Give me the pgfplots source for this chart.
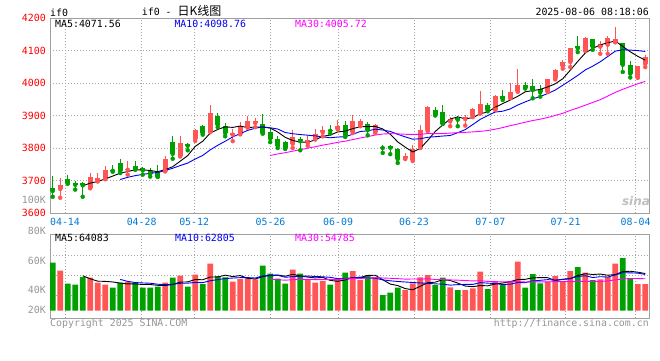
\documentclass[border=0pt]{standalone}
\usepackage{pgfplots}
\pgfplotsset{compat=1.18}
\usepackage{pgfplotstable}
\usepackage{fontspec}
\setmainfont{DejaVu Sans Mono}
\newfontfamily\cjk{Noto Sans CJK SC}
\newfontfamily\logofont{DejaVu Sans}
\definecolor{cred}{RGB}{255,85,85}
\definecolor{cgreen}{RGB}{0,160,0}
\definecolor{cblue}{RGB}{0,0,240}
\definecolor{cmag}{RGB}{255,0,255}
\definecolor{tickblue}{RGB}{0,122,215}
\definecolor{framec}{RGB}{160,160,160}
\definecolor{gridc}{RGB}{165,165,165}
\definecolor{lblgray}{RGB}{150,150,150}
\newcommand{\tf}{\fontsize{9.9}{10}\selectfont}

\pgfplotstableread{
x o h l c
1 3674 3707 3647 3685
5 3678 3723 3676 3711
6 3702 3723 3697 3709
7 3705 3745 3704 3733
10 3733 3759 3718 3736
15 3730 3774 3728 3767
17 3776 3838 3774 3815
19 3829 3859 3822 3854
21 3851 3933 3849 3907
24 3841 3857 3821 3846
25 3844 3879 3842 3867
26 3864 3898 3862 3882
27 3877 3893 3864 3882
32 3813 3854 3800 3834
34 3816 3838 3807 3826
35 3829 3857 3826 3844
36 3848 3867 3836 3855
38 3860 3886 3857 3869
40 3850 3903 3846 3882
41 3870 3890 3867 3884
43 3848 3874 3846 3872
47 3769 3784 3766 3774
48 3764 3808 3760 3798
49 3801 3872 3800 3854
50 3854 3930 3852 3925
53 3882 3895 3867 3889
55 3889 3902 3869 3895
56 3897 3923 3895 3920
57 3908 3975 3906 3936
59 3918 3963 3917 3960
61 3955 4001 3953 3973
62 3975 4044 3973 3994
66 3973 4012 3972 4011
67 4014 4044 4011 4041
68 4052 4070 4044 4065
69 4065 4109 4049 4108
71 4100 4143 4099 4140
73 4112 4130 4090 4120
74 4118 4144 4090 4140
75 4127 4173 4125 4135
78 4017 4052 4016 4051
79 4059 4085 4049 4080
}\redtab

\pgfplotstableread{
x o h l c
0 3677 3714 3650 3668
2 3705 3717 3690 3692
3 3692 3698 3672 3687
4 3691 3695 3650 3685
8 3733 3747 3727 3730
9 3753 3766 3723 3730
11 3745 3761 3733 3736
12 3737 3743 3718 3731
13 3730 3738 3712 3721
14 3725 3748 3711 3712
16 3820 3836 3767 3782
18 3813 3816 3793 3807
20 3869 3872 3841 3846
22 3897 3908 3864 3872
23 3869 3877 3836 3846
28 3875 3906 3844 3846
29 3848 3862 3818 3829
30 3829 3836 3800 3807
31 3818 3823 3797 3800
33 3828 3834 3793 3821
37 3856 3872 3844 3853
39 3872 3883 3834 3839
42 3875 3879 3839 3855
44 3803 3810 3785 3800
45 3806 3809 3781 3801
46 3797 3800 3754 3766
51 3916 3925 3900 3903
52 3912 3933 3874 3875
54 3891 3897 3867 3887
58 3933 3940 3913 3916
60 3960 3978 3948 3952
63 3994 4004 3983 3986
64 3991 4011 3953 3978
65 3981 3994 3958 3971
70 4115 4146 4095 4107
72 4135 4136 4102 4112
76 4123 4124 4034 4056
77 4056 4067 4017 4029
}\greentab

\pgfplotstableread{
x v
1 69000
5 56900
6 48300
7 44900
10 50000
15 48300
17 60400
19 62100
21 81100
24 50000
25 54600
26 57500
27 54100
32 70700
34 53500
35 48300
36 51200
38 55800
40 68400
41 52900
43 57500
47 35700
48 47200
49 57500
50 61500
53 40300
55 35700
56 38500
57 67300
59 51200
61 51200
62 84500
66 50000
67 59800
68 50000
69 68400
71 65600
73 54100
74 58100
75 81100
78 46000
79 46000
}\volred

\pgfplotstableread{
x v
0 82800
2 46600
3 44900
4 58100
8 39700
9 48300
11 48300
12 39700
13 39700
14 41400
16 56900
18 41400
20 46000
22 59800
23 57500
28 77600
29 63800
30 55200
31 46600
33 63800
37 44900
39 65600
42 61500
44 27000
45 31100
46 39700
51 44300
52 56900
54 35700
58 37400
60 44300
63 39700
64 63300
65 47200
70 75300
72 52900
76 90900
77 56400
}\volgreen

\pgfplotsset{
  chartbase/.style={
    scale only axis, anchor=south west, width=599pt,
    xmin=-0.36, xmax=79.5,
    axis line style={framec, line width=1pt},
    xtick={1.64,11.86,18.86,29.04,38.05,48.17,58.35,68.38,77.71},
    major tick length=0pt,
    grid=major,
    grid style={gridc, line width=0.8pt, dash pattern=on 1pt off 2pt},
    scaled y ticks=false,
  },
  candle/.style={only marks, mark=none, forget plot,
    error bars/.cd, y dir=plus, y explicit, error mark=none,
    error bar style={line width=#1}},
}

\begin{document}
\begin{tikzpicture}
\useasboundingbox (0pt,0pt) rectangle (660pt,360pt);

% ---------------- price panel ----------------
\begin{axis}[chartbase,
  at={(50pt,147pt)}, height=195pt,
  ymin=3600, ymax=4200,
  xticklabels={04-14,04-28,05-12,05-26,06-09,06-23,07-07,07-21,08-04},
  ytick={3600,3700,3800,3900,4000,4100,4200},
  yticklabels={3600,3700,3800,3900,4000,4100,4200},
  xticklabel style={tickblue, font=\tf, anchor=center, yshift=-8.5pt},
  yticklabel style={red, font=\tf, anchor=east, inner sep=0pt, xshift=-4pt},
]
\addplot[cred, candle=1pt] table[x=x, y=l, y error plus expr=\thisrow{h}-\thisrow{l}] \redtab;
\addplot[cred, candle=5.3pt] table[x=x, y=o, y error plus expr=\thisrow{c}-\thisrow{o}] \redtab;
\addplot[cgreen, candle=1pt] table[x=x, y=l, y error plus expr=\thisrow{h}-\thisrow{l}] \greentab;
\addplot[cgreen, candle=5.3pt] table[x=x, y=c, y error plus expr=\thisrow{o}-\thisrow{c}] \greentab;

% MA5
\addplot[black, line width=0.9pt, mark=none] coordinates {
(4,3683.4)(5,3692.0)(6,3696.8)(7,3705.0)(8,3713.6)(9,3722.6)(10,3727.6)(11,3733.0)(12,3732.6)(13,3730.8)
(14,3727.2)(15,3733.4)(16,3742.6)(17,3759.4)(18,3776.6)(19,3805.0)(20,3820.8)(21,3845.8)(22,3857.2)(23,3865.0)
(24,3863.4)(25,3867.6)(26,3862.6)(27,3864.6)(28,3864.6)(29,3861.2)(30,3849.2)(31,3832.8)(32,3823.2)(33,3818.2)
(34,3817.6)(35,3825.0)(36,3836.0)(37,3839.8)(38,3849.4)(39,3852.0)(40,3859.6)(41,3865.4)(42,3865.8)(43,3866.4)
(44,3858.6)(45,3842.4)(46,3818.8)(47,3802.6)(48,3787.8)(49,3798.6)(50,3823.4)(51,3850.8)(52,3871.0)(53,3889.2)
(54,3895.8)(55,3889.8)(56,3893.2)(57,3905.4)(58,3910.8)(59,3925.4)(60,3936.8)(61,3947.4)(62,3959.0)(63,3973.0)
(64,3976.6)(65,3980.4)(66,3988.0)(67,3997.4)(68,4013.2)(69,4039.2)(70,4066.4)(71,4092.2)(72,4106.4)(73,4117.4)
(74,4123.8)(75,4129.4)(76,4112.6)(77,4096.0)(78,4082.2)(79,4070.2)};
% MA10
\addplot[cblue, line width=0.9pt, mark=none] coordinates {
(9,3703.0)(10,3709.8)(11,3714.9)(12,3718.8)(13,3722.2)(14,3724.9)(15,3730.5)(16,3737.8)(17,3746.0)(18,3753.7)
(19,3766.1)(20,3777.1)(21,3794.2)(22,3808.3)(23,3820.8)(24,3834.2)(25,3844.2)(26,3854.2)(27,3860.9)(28,3864.8)
(29,3862.3)(30,3858.4)(31,3847.7)(32,3843.9)(33,3841.4)(34,3839.4)(35,3837.1)(36,3834.4)(37,3831.5)(38,3833.8)
(39,3834.8)(40,3842.3)(41,3850.7)(42,3852.8)(43,3857.9)(44,3855.3)(45,3851.0)(46,3842.1)(47,3834.2)(48,3827.1)
(49,3828.6)(50,3832.9)(51,3834.8)(52,3836.8)(53,3838.5)(54,3847.2)(55,3856.6)(56,3872.0)(57,3888.2)(58,3900.0)
(59,3910.6)(60,3913.3)(61,3920.3)(62,3932.2)(63,3941.9)(64,3951.0)(65,3958.6)(66,3967.7)(67,3978.2)(68,3993.1)
(69,4007.9)(70,4023.4)(71,4040.1)(72,4051.9)(73,4065.3)(74,4081.5)(75,4097.9)(76,4102.4)(77,4101.2)(78,4099.8)
(79,4097.0)};
% MA30
\addplot[cmag, line width=0.9pt, mark=none] coordinates {
(29,3777.1)(30,3781.8)(31,3785.6)(32,3790.3)(33,3794.8)(34,3799.5)(35,3803.9)(36,3808.8)(37,3812.8)(38,3817.4)
(39,3821.1)(40,3825.9)(41,3830.9)(42,3835.0)(43,3840.0)(44,3843.0)(45,3844.1)(46,3843.6)(47,3842.2)(48,3841.9)
(49,3841.9)(50,3844.5)(51,3844.4)(52,3844.5)(53,3845.9)(54,3847.3)(55,3848.2)(56,3849.5)(57,3851.3)(58,3853.6)
(59,3858.0)(60,3862.8)(61,3868.6)(62,3873.9)(63,3879.4)(64,3884.5)(65,3888.7)(66,3893.9)(67,3900.2)(68,3906.7)
(69,3915.7)(70,3923.2)(71,3931.7)(72,3940.3)(73,3948.6)(74,3959.9)(75,3971.0)(76,3980.7)(77,3989.2)(78,3997.6)
(79,4005.2)};
\end{axis}

% ---------------- volume panel ----------------
\begin{axis}[chartbase,
  at={(50pt,42pt)}, height=84pt,
  ymin=-12592, ymax=132307,
  xticklabels={},
  ytick={27083,61583,96083},
  yticklabels={},
]
\addplot[ybar, bar width=5.7pt, bar shift=0pt, fill=cred, draw=none] table[x=x, y=v] \volred;
\addplot[ybar, bar width=5.7pt, bar shift=0pt, fill=cgreen, draw=none] table[x=x, y=v] \volgreen;
% MA5
\addplot[black, line width=0.9pt, mark=none] coordinates {
(4,60260)(5,55085)(6,50945)(7,50600)(8,49565)(9,47610)(10,46230)(11,46230)(12,45195)(13,45195)
(14,43815)(15,43470)(16,45195)(17,49335)(18,49680)(19,53820)(20,53360)(21,58190)(22,58075)(23,61295)
(24,58880)(25,60605)(26,55890)(27,54740)(28,58765)(29,61525)(30,61640)(31,59455)(32,62790)(33,60030)
(34,57960)(35,56580)(36,57500)(37,52325)(38,50715)(39,53130)(40,57155)(41,57500)(42,60835)(43,61180)
(44,53475)(45,46000)(46,43355)(47,38180)(48,36110)(49,42205)(50,48300)(51,49220)(52,53475)(53,52095)
(54,47725)(55,42550)(56,41400)(57,43470)(58,42895)(59,46000)(60,47725)(61,50255)(62,53705)(63,54165)
(64,56580)(65,57155)(66,56925)(67,51980)(68,54050)(69,55085)(70,60720)(71,63825)(72,62445)(73,63250)
(74,61180)(75,62330)(76,67390)(77,68080)(78,66470)(79,64055)};
% MA10
\addplot[cblue, line width=0.9pt, mark=none] coordinates {
(9,53935)(10,50658)(11,48588)(12,47898)(13,47380)(14,45713)(15,44850)(16,45713)(17,47265)(18,47438)
(19,48818)(20,48415)(21,51693)(22,53705)(23,55488)(24,56350)(25,56983)(26,57040)(27,56408)(28,60030)
(29,60203)(30,61123)(31,57673)(32,58765)(33,59398)(34,59743)(35,59110)(36,58478)(37,57558)(38,55373)
(39,55545)(40,56868)(41,57500)(42,56580)(43,55948)(44,53303)(45,51578)(46,50428)(47,49508)(48,48645)
(49,47840)(50,47150)(51,46288)(52,45828)(53,44103)(54,44965)(55,45425)(56,45310)(57,48473)(58,47495)
(59,46863)(60,45138)(61,45828)(62,48588)(63,48530)(64,51290)(65,52440)(66,53590)(67,52843)(68,54108)
(69,55833)(70,58938)(71,60375)(72,57213)(73,58650)(74,58133)(75,61525)(76,65608)(77,65263)(78,64860)
(79,62618)};
% MA30
\addplot[cmag, line width=0.9pt, mark=none] coordinates {
(29,54318)(30,53398)(31,52651)(32,53456)(33,54088)(34,53935)(35,53648)(36,53743)(37,53743)(38,54280)
(39,54855)(40,55468)(41,55622)(42,56350)(43,56944)(44,56465)(45,55890)(46,55315)(47,54491)(48,54683)
(49,54529)(50,55047)(51,53820)(52,53724)(53,53149)(54,52670)(55,52038)(56,51405)(57,51846)(58,50504)
(59,50083)(60,49718)(61,49872)(62,50332)(63,49527)(64,49853)(65,49815)(66,49776)(67,50274)(68,50083)
(69,50178)(70,50408)(71,50830)(72,50543)(73,50428)(74,51463)(75,53130)(76,54836)(77,55526)(78,55488)
(79,55104)};
\end{axis}

% ---------------- texts ----------------
\node[anchor=west, inner sep=0pt] at (50pt,347.5pt) {\tf if0};
\node[anchor=west, inner sep=0pt] at (141.7pt,349.5pt) {\tf if0 - {\cjk\fontsize{12}{12}\selectfont 日K线图}};
\node[anchor=east, inner sep=0pt] at (649pt,347.8pt) {\tf 2025-08-06 08:18:06};

\node[anchor=west, inner sep=0pt] at (55pt,336pt) {\tf MA5:4071.56};
\node[anchor=west, inner sep=0pt, text=cblue] at (174.3pt,336pt) {\tf MA10:4098.76};
\node[anchor=west, inner sep=0pt, text=cmag] at (295pt,336pt) {\tf MA30:4005.72};

\node[anchor=west, inner sep=0pt] at (55pt,122.3pt) {\tf MA5:64083};
\node[anchor=west, inner sep=0pt, text=cblue] at (175pt,122.3pt) {\tf MA10:62805};
\node[anchor=west, inner sep=0pt, text=cmag] at (295pt,122.3pt) {\tf MA30:54785};

\node[anchor=east, inner sep=0pt, text=lblgray] at (46pt,160pt) {\tf 100K};
\node[anchor=east, inner sep=0pt, text=lblgray] at (46pt,129pt) {\tf 80K};
\node[anchor=east, inner sep=0pt, text=lblgray] at (46pt,99pt) {\tf 60K};
\node[anchor=east, inner sep=0pt, text=lblgray] at (46pt,70pt) {\tf 40K};
\node[anchor=east, inner sep=0pt, text=lblgray] at (46pt,50pt) {\tf 20K};

\node[anchor=west, inner sep=0pt, text=lblgray] at (50pt,36.7pt) {\tf Copyright 2025 SINA.COM};
\node[anchor=east, inner sep=0pt, text=lblgray] at (649pt,36pt) {\tf http://finance.sina.com.cn};

\node[inner sep=0pt, text=black!25] at (636pt,159pt) {\logofont\bfseries\itshape\fontsize{12}{12}\selectfont sina};
\end{tikzpicture}
\end{document}
